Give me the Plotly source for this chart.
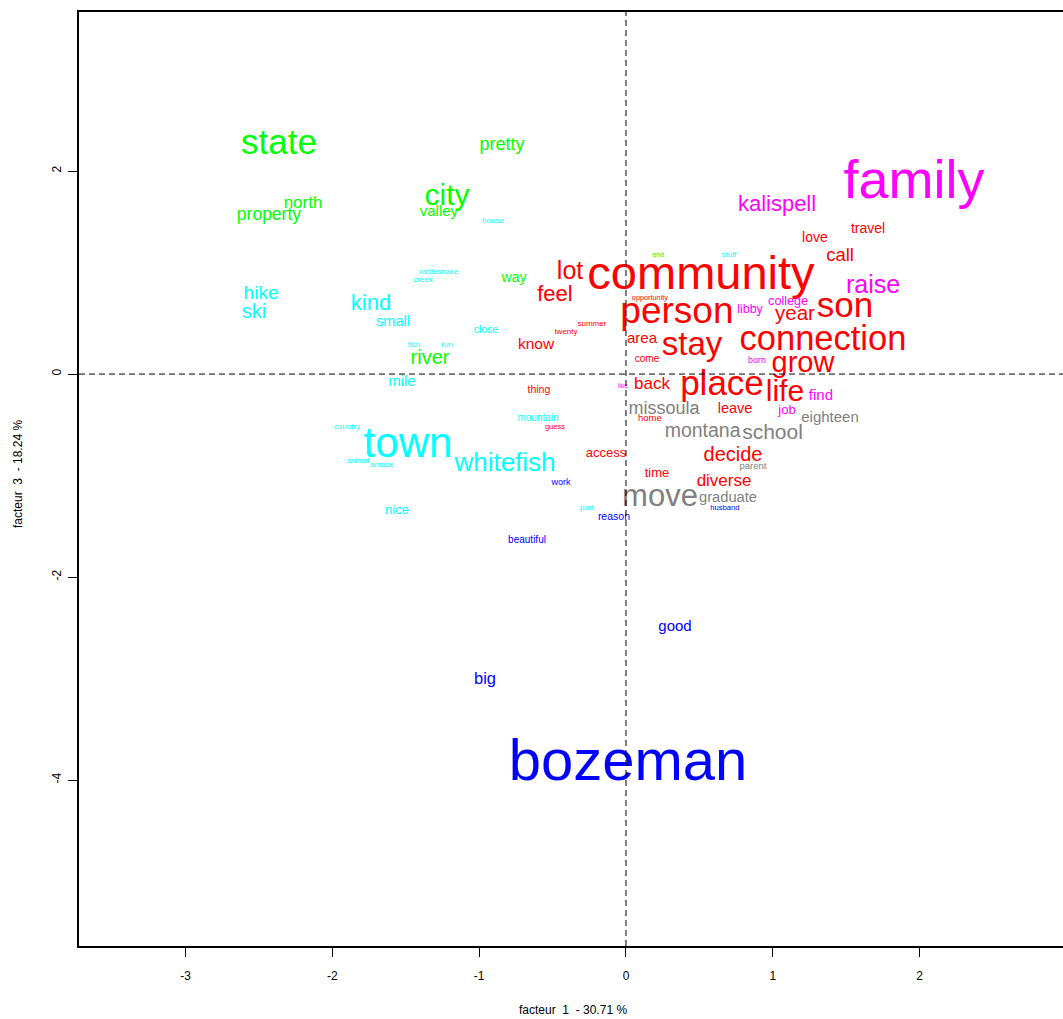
import plotly.graph_objects as go

# Correspondence analysis: word coordinates on factor 1 (x) and factor 3 (y),
# one group of words per class, text size proportional to the word's weight.

green_words = ["state", "pretty", "city", "north", "property", "valley", "way", "river", "end"]
green_x = [-2.364, -0.845, -1.219, -2.200, -2.432, -1.274, -0.763, -1.335, 0.218]
green_y = [2.252, 2.256, 1.743, 1.677, 1.558, 1.590, 0.941, 0.144, 1.172]
green_w = [35, 18, 30, 17, 17.5, 15, 14, 20, 7]

cyan_words = ["house", "stuff", "rattlesnake", "creek", "hike", "ski", "kind", "small",
              "close", "fish", "run", "mile", "mountain", "country", "town", "animal",
              "amaze", "whitefish", "nice", "part"]
cyan_x = [-0.906, 0.702, -1.274, -1.383, -2.486, -2.534, -1.737, -1.587,
          -0.954, -1.444, -1.219, -1.526, -0.599, -1.901, -1.485, -1.826,
          -1.662, -0.824, -1.560, -0.266]
cyan_y = [1.507, 1.172, 1.005, 0.926, 0.785, 0.597, 0.685, 0.514,
          0.428, 0.286, 0.286, -0.076, -0.437, -0.522, -0.709, -0.857,
          -0.897, -0.895, -1.347, -1.320]
cyan_w = [8, 8, 8, 8, 19, 20, 22, 14.5,
          10.5, 8, 8, 15, 10, 8, 42, 7.5,
          8, 26, 13, 8]

red_words = ["love", "travel", "call", "community", "lot", "feel", "opportunity", "son",
             "year", "person", "twenty", "summer", "area", "stay", "connection", "know",
             "come", "grow", "thing", "back", "place", "life", "leave", "home", "guess",
             "access", "decide", "time", "diverse"]
red_x = [1.287, 1.649, 1.458, 0.511, -0.381, -0.484, 0.163, 1.492,
         1.151, 0.347, -0.409, -0.232, 0.109, 0.450, 1.342, -0.613,
         0.143, 1.206, -0.593, 0.177, 0.654, 1.083, 0.743, 0.163, -0.484,
         -0.136, 0.729, 0.211, 0.668]
red_y = [1.333, 1.422, 1.159, 0.953, 0.998, 0.773, 0.749, 0.646,
         0.587, 0.595, 0.414, 0.493, 0.347, 0.273, 0.321, 0.288,
         0.143, 0.088, -0.163, -0.110, -0.123, -0.188, -0.344, -0.443, -0.522,
         -0.785, -0.812, -0.983, -1.065]
red_w = [14, 14, 18.5, 47, 25, 22, 7.3, 35,
         20.5, 37, 8, 8, 15, 33, 34.5, 15.5,
         10, 29, 10.5, 17, 35, 30, 14.5, 9.5, 7.5,
         13, 20, 13, 17]

magenta_words = ["family", "kalispell", "raise", "college", "libby", "born", "live", "find", "job"]
magenta_x = [1.962, 1.029, 1.683, 1.104, 0.845, 0.892, -0.020, 1.328, 1.097]
magenta_y = [1.864, 1.660, 0.860, 0.712, 0.633, 0.128, -0.118, -0.214, -0.362]
magenta_w = [54, 22, 25, 12.6, 12.5, 9, 6.7, 15, 13]

gray_words = ["missoula", "eighteen", "montana", "school", "parent", "move", "graduate"]
gray_x = [0.259, 1.390, 0.522, 0.998, 0.865, 0.232, 0.695]
gray_y = [-0.347, -0.431, -0.575, -0.586, -0.916, -1.223, -1.220]
gray_w = [18, 15, 19.5, 21, 9.5, 31, 14.7]

blue_words = ["work", "husband", "reason", "beautiful", "good", "big", "bozeman"]
blue_x = [-0.443, 0.674, -0.082, -0.674, 0.334, -0.960, 0.014]
blue_y = [-1.074, -1.320, -1.414, -1.640, -2.490, -3.016, -3.853]
blue_w = [9, 7.6, 10.5, 10, 15, 16.5, 58]

x_ticks = [-3, -2, -1, 0, 1, 2]
x_tick_labels = ["-3", "-2", "-1", "0", "1", "2"]
y_ticks = [-4, -2, 0, 2]
y_tick_labels = ["-4", "-2", "0", "2"]

x_title = "facteur  1  - 30.71 %"
y_title = "facteur  3  - 18.24 %"

FONT = "Liberation Sans, Arial, sans-serif"

groups = [
    (green_words, green_x, green_y, green_w, "#00ff00"),
    (cyan_words, cyan_x, cyan_y, cyan_w, "#00ffff"),
    (red_words, red_x, red_y, red_w, "#ff0000"),
    (magenta_words, magenta_x, magenta_y, magenta_w, "#ff00ff"),
    (gray_words, gray_x, gray_y, gray_w, "#808080"),
    (blue_words, blue_x, blue_y, blue_w, "#0000ff"),
]

fig = go.Figure()
for words, xs, ys, ws, col in groups:
    fig.add_trace(go.Scatter(
        x=xs, y=ys, text=words, mode="text",
        textposition="middle center",
        textfont=dict(family=FONT, size=ws, color=col),
        hoverinfo="text", showlegend=False, cliponaxis=False,
    ))

# dashed reference axes through the origin
fig.add_shape(type="line", xref="x", yref="paper", x0=0, x1=0, y0=0, y1=1,
              line=dict(color="black", width=1, dash="6px,4px"), layer="above")
fig.add_shape(type="line", xref="paper", yref="y", x0=0, x1=1, y0=0, y1=0,
              line=dict(color="black", width=1, dash="6px,4px"), layer="above")

fig.update_xaxes(
    range=[-3.726, 2.977], tickvals=x_ticks, ticktext=x_tick_labels,
    showgrid=False, zeroline=False, showline=True, mirror=True,
    linecolor="black", linewidth=1.5,
    ticks="outside", ticklen=9, tickwidth=1, tickcolor="black",
    tickfont=dict(family=FONT, size=12, color="black"),
    ticklabelstandoff=9,
)
fig.update_yaxes(
    range=[-5.635, 3.567], tickvals=y_ticks, ticktext=y_tick_labels,
    showgrid=False, zeroline=False, showline=True, mirror=False,
    linecolor="black", linewidth=1.5,
    ticks="outside", ticklen=9, tickwidth=1, tickcolor="black",
    tickfont=dict(family=FONT, size=12, color="black"),
    tickangle=-90, ticklabelstandoff=2,
)

fig.add_annotation(text=x_title, xref="paper", yref="paper", x=(573 - 79) / 984,
                   y=-(1010 - 946) / 934, showarrow=False,
                   font=dict(family=FONT, size=12, color="black"),
                   xanchor="center", yanchor="middle")
fig.add_annotation(text=y_title, xref="paper", yref="paper", x=-(79 - 18) / 984,
                   y=(946 - 474) / 934, showarrow=False, textangle=-90,
                   font=dict(family=FONT, size=12, color="black"),
                   xanchor="center", yanchor="middle")
# partially visible "3" tick label at the right edge of the frame
fig.add_annotation(text="3", xref="paper", yref="paper", x=(1066 - 79) / 984,
                   y=-(975 - 946) / 934, showarrow=False,
                   font=dict(family=FONT, size=12, color="black"),
                   xanchor="center", yanchor="middle")

fig.update_layout(
    width=1063, height=1019,
    margin=dict(l=79, r=0, t=12, b=73),
    paper_bgcolor="white", plot_bgcolor="white",
    font=dict(family=FONT),
)

fig.write_html("out.html")
